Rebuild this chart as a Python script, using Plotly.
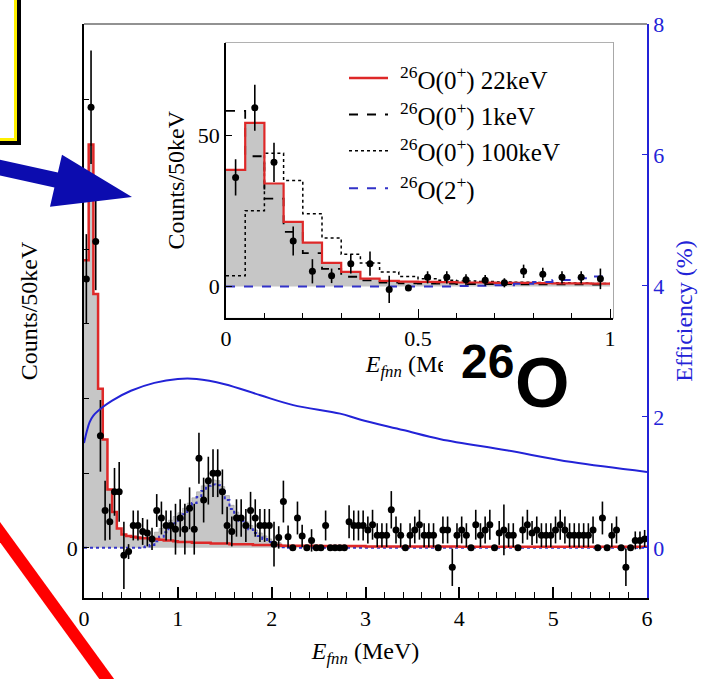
import numpy as np
import plotly.graph_objects as go

# ---------------- data ----------------
energy_bins = np.round(np.arange(0.025, 6.0, 0.05), 3)   # 50 keV bin centres (MeV)

counts = [
    36, 59, 41, 15, 5, 3.5, 7.5, 7.5, -1, -0.5,
    3, 3, 2.2, 2, 1.2, 5, 4, 3, 3, 2.5,
    4, 2.5, 5.3, 2.5, 12, 6.4, 9, 10, 10, 7.5,
    3, 2.2, 4, 4, 3, 5, 4, 3, 3, 3,
    0.5, 1.4, 6.2, 1.5, 0, 4, 1.6, 0, 1, 0,
    0, 3, 0, 0, 0, 0, 3.5, 3, 3, 3,
    2.4, 3.1, 1.7, 1.7, 1.7, 5.1, 2.4, 1.7, 0, 1.7,
    2.4, 3.1, 1.7, 1.7, 1.7, 0, 2.4, 2.4, -2.6, 1.7,
    2.4, 1.7, 0, 3.1, 1.7, 2.4, 3.1, 0, 2, 2.4,
    1.7, 1.7, 0, 2.4, 3.1, 2, 2.4, 1.7, 1.7, 1.7,
    2.4, 3.1, 2.4, 1.7, 1.7, 1.7, 1.7, 1.7, 2.4, 0,
    4, 0, 1.7, 2.4, 0, -2.6, 0, 1, 1, 1.2,
]
count_err = [
    6, 7.6, 6.5, 4.8, 4, 2.4, 3.2, 4, 4.5, 1,
    2, 2, 1.8, 1.8, 1.5, 2.2, 2.2, 2, 2, 3.4,
    2.5, 3.4, 2.8, 3.4, 3.4, 3, 3.2, 3.2, 3.2, 3,
    2.5, 2, 2.5, 2.5, 2.2, 2.5, 2.5, 2.2, 2.2, 2.2,
    3, 1.5, 2.8, 1.5, 0, 2.2, 1.5, 0, 1.5, 0,
    0, 2, 0, 0, 0, 0, 2.2, 2, 2, 2,
    1.8, 2, 1.6, 1.6, 1.6, 2.5, 1.8, 1.6, 0, 1.6,
    1.8, 2, 1.6, 1.6, 1.6, 0, 1.8, 1.8, 2.5, 1.6,
    1.8, 1.6, 0, 2, 1.6, 1.8, 2, 0, 1.6, 3.4,
    1.6, 1.6, 0, 1.8, 2, 1.6, 1.8, 1.6, 1.6, 1.6,
    1.8, 2, 1.8, 1.6, 1.6, 1.6, 1.6, 1.6, 1.8, 0,
    2.2, 0, 1.6, 1.8, 0, 2.5, 0, 1.2, 1.2, 1.2,
]

model_edges = list(np.round(np.arange(0.0, 2.501, 0.05), 3)) + [3.0, 4.0, 5.0, 6.0]
model_22kev = [
    38.5, 54, 34, 21.3, 14.5, 7.8, 4.8, 2.6, 1.8, 1.6,
    1.5, 1.4, 1.3, 1.3, 1.2, 1.2, 1.1, 1.0, 1.0, 0.9,
    0.8, 0.8, 0.8, 0.7, 0.7, 0.7, 0.7, 0.6, 0.6, 0.6,
    0.6, 0.5, 0.5, 0.5, 0.5, 0.5, 0.4, 0.4, 0.4, 0.4,
    0.4, 0.4, 0.3, 0.3, 0.3, 0.3, 0.3, 0.3, 0.3, 0.3,
    0.25, 0.2, 0.15, 0.15,
]
model_2plus = [
    0, 0, 0, 0, 0, 0, 0, 0, 0, 0,
    0, 0, 0.1, 0.2, 0.4, 0.9, 1.5, 2.1, 2.7, 3.3,
    3.9, 4.5, 5.2, 6.0, 6.8, 7.6, 8.3, 8.5, 8.4, 7.6,
    6.4, 5.2, 4.3, 3.6, 3.0, 2.5, 2.0, 1.6, 1.2, 0.8,
    0.5, 0.3, 0.1, 0, 0, 0, 0, 0, 0, 0,
    0, 0, 0, 0,
]
inset_edges = list(np.round(np.arange(0.0, 1.001, 0.05), 3))
model_1kev = [58, 43, 29, 18, 11, 5.8, 3.2, 2.0, 1.3, 1.0,
              0.9, 0.9, 0.8, 0.8, 0.8, 0.7, 0.7, 0.7, 0.7, 0.6]
model_100kev = [3.5, 25, 44, 35, 24, 16, 10.6, 7.7, 4.8, 3.3,
                2.5, 2.0, 1.8, 1.6, 1.5, 1.4, 1.3, 1.2, 1.1, 1.0]

eff_energy = [0.0, 0.03, 0.06, 0.1, 0.2, 0.3, 0.5, 0.75, 1.0, 1.2, 1.5, 1.88,
              2.23, 2.73, 2.94, 3.4, 3.8, 4.5, 5.2, 6.0]
eff_percent = [1.6, 1.78, 1.92, 2.02, 2.15, 2.25, 2.4, 2.52, 2.58, 2.58, 2.5, 2.33,
               2.18, 2.05, 1.96, 1.8, 1.66, 1.49, 1.31, 1.16]

legend_labels = ["<sup>26</sup>O(0<sup>+</sup>) 22keV", "<sup>26</sup>O(0<sup>+</sup>) 1keV",
                 "<sup>26</sup>O(0<sup>+</sup>) 100keV", "<sup>26</sup>O(2<sup>+</sup>)"]

# ---------------- geometry helpers (pixel -> paper) ----------------
W, H = 712, 679
L, R, T, B = 84, 647, 14, 598
def fx(px): return (px - L) / (R - L)
def fy(py): return (B - py) / (B - T)

SERIF = "Liberation Serif, Times New Roman, serif"
BLUE = "rgb(35,35,215)"
RED = "rgb(222,40,40)"
GRAY = "rgb(198,198,198)"

def step(edges, vals):
    return list(edges), list(vals) + [vals[-1]]

total_fit = [a + b for a, b in zip(model_22kev, model_2plus)]

fig = go.Figure()

# ---- main panel ----
sx, sy = step(model_edges, total_fit)
fig.add_trace(go.Scatter(x=sx, y=sy, mode="lines", line=dict(shape="hv", width=0.6, color="rgb(150,150,150)"),
                         fill="tozeroy", fillcolor=GRAY, showlegend=False, xaxis="x", yaxis="y"))
sx, sy = step(model_edges, model_2plus)
fig.add_trace(go.Scatter(x=sx, y=sy, mode="lines", line=dict(shape="hv", width=2, color="rgb(50,50,200)", dash="dot"),
                         showlegend=False, xaxis="x", yaxis="y"))
sx, sy = step(model_edges, model_22kev)
fig.add_trace(go.Scatter(x=sx, y=sy, mode="lines", line=dict(shape="hv", width=2.5, color=RED),
                         showlegend=False, xaxis="x", yaxis="y"))
fig.add_trace(go.Scatter(x=energy_bins, y=counts, mode="markers",
                         marker=dict(color="black", size=7),
                         error_y=dict(type="data", array=count_err, thickness=1.6, width=0, color="black"),
                         showlegend=False, xaxis="x", yaxis="y"))
fig.add_trace(go.Scatter(x=eff_energy, y=eff_percent, mode="lines", line=dict(color=BLUE, width=2, shape="spline"),
                         showlegend=False, xaxis="x", yaxis="y2"))

# ---- inset panel ----
in_x = [e for e in energy_bins if e < 1.0]
n_in = len(in_x)
sx, sy = step(inset_edges, model_22kev[:20])
fig.add_trace(go.Scatter(x=sx, y=sy, mode="lines", line=dict(shape="hv", width=0), fill="tozeroy",
                         fillcolor=GRAY, showlegend=False, xaxis="x3", yaxis="y3"))
sx, sy = step(inset_edges, model_100kev)
fig.add_trace(go.Scatter(x=sx, y=sy, mode="lines", line=dict(shape="hv", width=1.5, color="black", dash="dot"),
                         showlegend=False, xaxis="x3", yaxis="y3"))
sx, sy = step(inset_edges, model_1kev)
fig.add_trace(go.Scatter(x=sx, y=sy, mode="lines", line=dict(shape="hv", width=1.8, color="black", dash="dash"),
                         showlegend=False, xaxis="x3", yaxis="y3"))
sx, sy = step(inset_edges, model_22kev[:20])
fig.add_trace(go.Scatter(x=sx, y=sy, mode="lines", line=dict(shape="hv", width=2.2, color=RED),
                         showlegend=False, xaxis="x3", yaxis="y3"))
sx, sy = step(inset_edges, model_2plus[:20])
fig.add_trace(go.Scatter(x=sx, y=sy, mode="lines", line=dict(shape="hv", width=2, color="rgb(50,50,200)", dash="dash"),
                         showlegend=False, xaxis="x3", yaxis="y3"))
fig.add_trace(go.Scatter(x=in_x, y=counts[:n_in], mode="markers",
                         marker=dict(color="black", size=7),
                         error_y=dict(type="data", array=count_err[:n_in], thickness=1.6, width=0, color="black"),
                         showlegend=False, xaxis="x3", yaxis="y3"))

# ---------------- axes ----------------
cnt_scale = 7.6
eff_scale = (547 - 14) / 8.0
in_scale = 3.08
tick_font = dict(family=SERIF, size=22, color="black")
title_font = dict(family=SERIF, size=24, color="black")

fig.update_layout(
    width=W, height=H, autosize=False,
    margin=dict(l=L, r=W - R, t=T, b=H - B),
    paper_bgcolor="white", plot_bgcolor="white",
    xaxis=dict(domain=[0, 1], range=[0, 6], anchor="y", showline=True, linecolor="black", linewidth=1.5,
               ticks="inside", ticklen=11, tickwidth=1.5, tickcolor="black",
               tickvals=[0, 1, 2, 3, 4, 5, 6], tickfont=tick_font,
               minor=dict(ticks="inside", ticklen=6, tickwidth=1.3, tickcolor="black", dtick=0.2, tick0=0, showgrid=False),
               showgrid=False, zeroline=False,
               title=dict(text="<i>E</i><sub><i>fnn</i></sub> (MeV)", font=title_font, standoff=12)),
    yaxis=dict(range=[(547 - 598) / cnt_scale, (547 - 14) / cnt_scale], anchor="x",
               showline=True, linecolor="black", linewidth=1.5,
               ticks="inside", ticklen=5, tickwidth=1.2, tickcolor="black",
               tickvals=[0], ticktext=["0"],
               minor=dict(ticks="inside", ticklen=5, tickwidth=1.2, tickcolor="black", dtick=10, tick0=0, showgrid=False),
               tickfont=tick_font, showgrid=False, zeroline=False,
               title=dict(text="Counts/50keV", font=title_font, standoff=22)),
    yaxis2=dict(range=[(547 - 598) / eff_scale, 8], overlaying="y", side="right", anchor="x",
                showline=True, linecolor=BLUE, linewidth=1.5,
                ticks="inside", ticklen=5, tickwidth=1.2, tickcolor=BLUE,
                tickvals=[0, 2, 4, 6, 8], tickfont=dict(family=SERIF, size=22, color=BLUE),
                showgrid=False, zeroline=False,
                title=dict(text="Efficiency (%)", font=dict(family=SERIF, size=24, color=BLUE), standoff=12)),
    xaxis3=dict(domain=[fx(226), fx(613)], anchor="y3", range=[0, (613 - 226) / 384],
                showline=True, linecolor="black", linewidth=1.5,
                ticks="inside", ticklen=9, tickwidth=1.3, tickcolor="black",
                tickvals=[0, 0.5, 1], ticktext=["0", "0.5", "1"], tickfont=tick_font,
                minor=dict(ticks="inside", ticklen=5, tickwidth=1.2, tickcolor="black", dtick=0.1, tick0=0, showgrid=False),
                showgrid=False, zeroline=False,
                title=dict(text="<i>E</i><sub><i>fnn</i></sub> (MeV)", font=title_font, standoff=4)),
    yaxis3=dict(domain=[fy(313), fy(33)], anchor="x3", range=[-(313 - 281) / in_scale, (281 - 33) / in_scale],
                showline=True, linecolor="black", linewidth=1.5,
                ticks="inside", ticklen=6, tickwidth=1.2, tickcolor="black",
                tickvals=[0, 50], tickfont=tick_font, showgrid=False, zeroline=False,
                title=dict(text="Counts/50keV", font=title_font, standoff=6)),
)

shapes = []
# inset frame (white background, gray border)
shapes.append(dict(type="rect", xref="paper", yref="paper", x0=fx(226), x1=fx(613), y0=fy(313), y1=fy(33),
                   line=dict(color="rgb(140,140,140)", width=1.5), fillcolor="white", layer="below"))
# main top border
shapes.append(dict(type="line", xref="paper", yref="paper", x0=0, x1=1, y0=1, y1=1,
                   line=dict(color="rgb(110,110,110)", width=1.5)))
# manual inset legend lines
leg_rows = [69, 106, 143, 181]
leg_styles = [dict(color=RED, width=2.5), dict(color="black", width=2, dash="dash"),
              dict(color="black", width=1.5, dash="dot"), dict(color="rgb(50,50,200)", width=2, dash="dash")]
for ry, st in zip(leg_rows, leg_styles):
    shapes.append(dict(type="line", xref="paper", yref="paper", x0=fx(349), x1=fx(388), y0=fy(ry), y1=fy(ry), line=st))
# blue arrow
arrow_pts = [(-5, 150.9), (57.9, 165.1), (62, 147), (132, 190), (50, 200), (54.4, 180.4), (-5, 166.9)]
path = "M " + " L ".join(f"{fx(px):.5f},{fy(py):.5f}" for px, py in arrow_pts) + " Z"
shapes.append(dict(type="path", xref="paper", yref="paper", path=path,
                   fillcolor="rgb(12,12,175)", line=dict(width=0), layer="above"))
# red diagonal stroke
shapes.append(dict(type="line", xref="paper", yref="paper", x0=fx(-20), y0=fy(503), x1=fx(130), y1=fy(713),
                   line=dict(color="rgb(255,0,0)", width=12), layer="above"))
# yellow-framed box at top-left
shapes.append(dict(type="rect", xref="paper", yref="paper", x0=fx(-20), x1=fx(19), y0=fy(135), y1=fy(-20),
                   line=dict(color="black", width=4), fillcolor="white", layer="above"))
shapes.append(dict(type="rect", xref="paper", yref="paper", x0=fx(-20), x1=fx(15.5), y0=fy(131.5), y1=fy(-20),
                   line=dict(color="rgb(255,240,0)", width=3), fillcolor="rgba(0,0,0,0)", layer="above"))
fig.update_layout(shapes=shapes)

ann = []
for ry, lab in zip(leg_rows, legend_labels):
    ann.append(dict(x=fx(398), y=fy(ry), xref="paper", yref="paper", text=lab, showarrow=False,
                    xanchor="left", yanchor="middle", font=dict(family=SERIF, size=25, color="black")))
# white patch of the overlaid label (hides the end of the inset axis title, as in the slide)
ann.append(dict(x=fx(443), y=fy(334), xref="paper", yref="paper", text=" ", showarrow=False,
                xanchor="left", yanchor="top", width=145, height=78, bgcolor="white",
                borderwidth=0, borderpad=0, font=dict(size=10)))
ann.append(dict(x=fx(459), y=fy(386), xref="paper", yref="paper", text="<b>26</b>", showarrow=False,
                xanchor="left", yanchor="bottom", font=dict(family="Liberation Sans, Arial", size=48, color="black")))
ann.append(dict(x=fx(513), y=fy(421), xref="paper", yref="paper", text="<b>O</b>", showarrow=False,
                xanchor="left", yanchor="bottom", font=dict(family="Liberation Sans, Arial", size=70, color="black")))
fig.update_layout(annotations=ann)

fig.write_html("out.html", config={"displayModeBar": False},
               post_script="document.body.style.margin='0px';")
